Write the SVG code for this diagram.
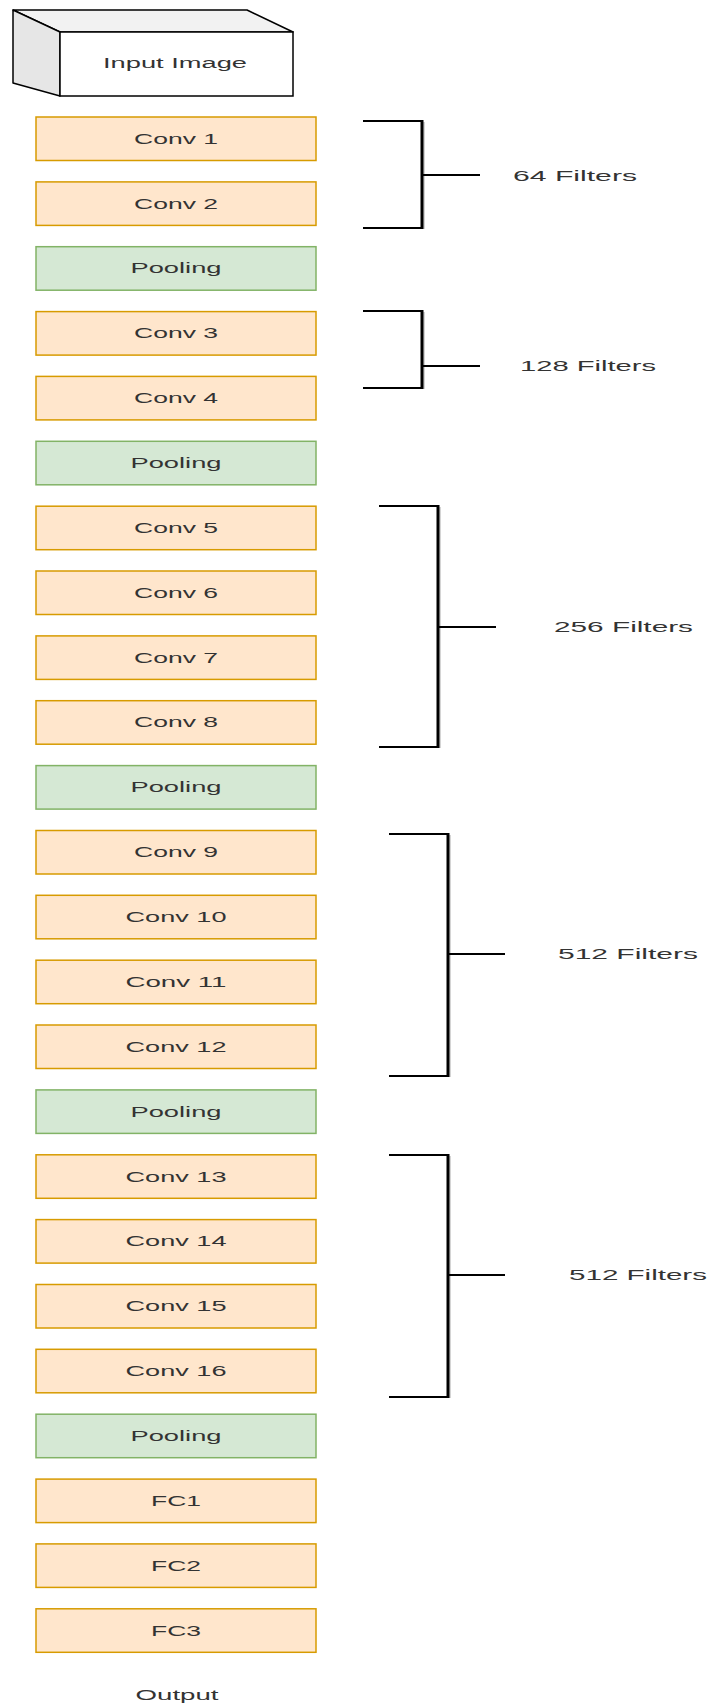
<svg xmlns="http://www.w3.org/2000/svg" width="710" height="1703" viewBox="0 0 710 1703">
<style>
  .conv { fill: #ffe6cc; stroke: #d79b00; stroke-width: 1.5; }
  .pool { fill: #d5e8d4; stroke: #82b366; stroke-width: 1.5; }
  .lbl { font-family: "Liberation Sans", Arial, sans-serif; font-size: 14px; fill: #333333; text-anchor: middle; }
  .flt { font-family: "Liberation Sans", Arial, sans-serif; font-size: 15px; fill: #333333; }
  .br { fill: none; stroke: #000000; stroke-width: 2; }
  .brv { stroke: #000000; stroke-width: 3; }
  .brs { stroke: #aaaaaa; stroke-width: 1; }
</style>
<rect x="0" y="0" width="710" height="1703" fill="#ffffff"/>

<g id="input-image">
  <polygon points="13,10 247,10 293,32 60,32" fill="#f2f2f2" stroke="#000" stroke-width="1.5" stroke-linejoin="round"/>
  <polygon points="13,10 60,32 60,96 13,83" fill="#e6e6e6" stroke="#000" stroke-width="1.5" stroke-linejoin="round"/>
  <rect x="60" y="32" width="233" height="64" fill="#ffffff" stroke="#000" stroke-width="1.5"/>
  <text class="lbl" x="175" y="68" textLength="144" lengthAdjust="spacingAndGlyphs">Input Image</text>
</g>

<g id="conv1"><rect class="conv" x="36" y="117" width="280" height="43.5"/><text class="lbl" x="176" y="143.7" textLength="84" lengthAdjust="spacingAndGlyphs">Conv 1</text></g>
<g id="conv2"><rect class="conv" x="36" y="181.9" width="280" height="43.5"/><text class="lbl" x="176" y="208.6" textLength="84" lengthAdjust="spacingAndGlyphs">Conv 2</text></g>
<g id="pool1"><rect class="pool" x="36" y="246.7" width="280" height="43.5"/><text class="lbl" x="176" y="273.4" textLength="91" lengthAdjust="spacingAndGlyphs">Pooling</text></g>
<g id="conv3"><rect class="conv" x="36" y="311.6" width="280" height="43.5"/><text class="lbl" x="176" y="338.3" textLength="84" lengthAdjust="spacingAndGlyphs">Conv 3</text></g>
<g id="conv4"><rect class="conv" x="36" y="376.4" width="280" height="43.5"/><text class="lbl" x="176" y="403.1" textLength="84" lengthAdjust="spacingAndGlyphs">Conv 4</text></g>
<g id="pool2"><rect class="pool" x="36" y="441.3" width="280" height="43.5"/><text class="lbl" x="176" y="468" textLength="91" lengthAdjust="spacingAndGlyphs">Pooling</text></g>
<g id="conv5"><rect class="conv" x="36" y="506.2" width="280" height="43.5"/><text class="lbl" x="176" y="532.9" textLength="84" lengthAdjust="spacingAndGlyphs">Conv 5</text></g>
<g id="conv6"><rect class="conv" x="36" y="571" width="280" height="43.5"/><text class="lbl" x="176" y="597.7" textLength="84" lengthAdjust="spacingAndGlyphs">Conv 6</text></g>
<g id="conv7"><rect class="conv" x="36" y="635.9" width="280" height="43.5"/><text class="lbl" x="176" y="662.6" textLength="84" lengthAdjust="spacingAndGlyphs">Conv 7</text></g>
<g id="conv8"><rect class="conv" x="36" y="700.7" width="280" height="43.5"/><text class="lbl" x="176" y="727.4" textLength="84" lengthAdjust="spacingAndGlyphs">Conv 8</text></g>
<g id="pool3"><rect class="pool" x="36" y="765.6" width="280" height="43.5"/><text class="lbl" x="176" y="792.3" textLength="91" lengthAdjust="spacingAndGlyphs">Pooling</text></g>
<g id="conv9"><rect class="conv" x="36" y="830.5" width="280" height="43.5"/><text class="lbl" x="176" y="857.2" textLength="84" lengthAdjust="spacingAndGlyphs">Conv 9</text></g>
<g id="conv10"><rect class="conv" x="36" y="895.3" width="280" height="43.5"/><text class="lbl" x="176" y="922" textLength="101" lengthAdjust="spacingAndGlyphs">Conv 10</text></g>
<g id="conv11"><rect class="conv" x="36" y="960.2" width="280" height="43.5"/><text class="lbl" x="176" y="986.9" textLength="101" lengthAdjust="spacingAndGlyphs">Conv 11</text></g>
<g id="conv12"><rect class="conv" x="36" y="1025" width="280" height="43.5"/><text class="lbl" x="176" y="1051.7" textLength="101" lengthAdjust="spacingAndGlyphs">Conv 12</text></g>
<g id="pool4"><rect class="pool" x="36" y="1089.9" width="280" height="43.5"/><text class="lbl" x="176" y="1116.6" textLength="91" lengthAdjust="spacingAndGlyphs">Pooling</text></g>
<g id="conv13"><rect class="conv" x="36" y="1154.8" width="280" height="43.5"/><text class="lbl" x="176" y="1181.5" textLength="101" lengthAdjust="spacingAndGlyphs">Conv 13</text></g>
<g id="conv14"><rect class="conv" x="36" y="1219.6" width="280" height="43.5"/><text class="lbl" x="176" y="1246.3" textLength="101" lengthAdjust="spacingAndGlyphs">Conv 14</text></g>
<g id="conv15"><rect class="conv" x="36" y="1284.5" width="280" height="43.5"/><text class="lbl" x="176" y="1311.2" textLength="101" lengthAdjust="spacingAndGlyphs">Conv 15</text></g>
<g id="conv16"><rect class="conv" x="36" y="1349.3" width="280" height="43.5"/><text class="lbl" x="176" y="1376" textLength="101" lengthAdjust="spacingAndGlyphs">Conv 16</text></g>
<g id="pool5"><rect class="pool" x="36" y="1414.2" width="280" height="43.5"/><text class="lbl" x="176" y="1440.9" textLength="91" lengthAdjust="spacingAndGlyphs">Pooling</text></g>
<g id="fc1"><rect class="conv" x="36" y="1479.1" width="280" height="43.5"/><text class="lbl" x="176" y="1505.8" textLength="50" lengthAdjust="spacingAndGlyphs">FC1</text></g>
<g id="fc2"><rect class="conv" x="36" y="1543.9" width="280" height="43.5"/><text class="lbl" x="176" y="1570.6" textLength="50" lengthAdjust="spacingAndGlyphs">FC2</text></g>
<g id="fc3"><rect class="conv" x="36" y="1608.8" width="280" height="43.5"/><text class="lbl" x="176" y="1635.5" textLength="50" lengthAdjust="spacingAndGlyphs">FC3</text></g>
<g id="output"><text class="lbl" x="177" y="1700" textLength="83" lengthAdjust="spacingAndGlyphs">Output</text></g>

<g id="connectors">
  <g id="bracket1">
    <line class="brs" x1="424" y1="122" x2="424" y2="229"/>
    <path class="br" d="M363,121 H422 M363,228 H422 M422,175 H480"/>
    <line class="brv" x1="422" y1="120" x2="422" y2="229"/>
  </g>
  <g id="bracket2">
    <line class="brs" x1="424" y1="312" x2="424" y2="389"/>
    <path class="br" d="M363,311 H422 M363,388 H422 M422,366 H480"/>
    <line class="brv" x1="422" y1="310" x2="422" y2="389"/>
  </g>
  <g id="bracket3">
    <line class="brs" x1="440" y1="507" x2="440" y2="748"/>
    <path class="br" d="M379,506 H438 M379,747 H438 M438,627 H496"/>
    <line class="brv" x1="438" y1="505" x2="438" y2="748"/>
  </g>
  <g id="bracket4">
    <line class="brs" x1="450" y1="835" x2="450" y2="1077"/>
    <path class="br" d="M389,834 H448 M389,1076 H448 M448,954 H505"/>
    <line class="brv" x1="448" y1="833" x2="448" y2="1077"/>
  </g>
  <g id="bracket5">
    <line class="brs" x1="450" y1="1156" x2="450" y2="1398"/>
    <path class="br" d="M389,1155 H448 M389,1397 H448 M448,1275 H505"/>
    <line class="brv" x1="448" y1="1154" x2="448" y2="1398"/>
  </g>
</g>

<g id="labels">
  <text class="flt" x="513" y="181" textLength="124" lengthAdjust="spacingAndGlyphs">64 Filters</text>
  <text class="flt" x="520" y="371" textLength="136" lengthAdjust="spacingAndGlyphs">128 Filters</text>
  <text class="flt" x="554" y="632" textLength="139" lengthAdjust="spacingAndGlyphs">256 Filters</text>
  <text class="flt" x="558" y="959" textLength="140" lengthAdjust="spacingAndGlyphs">512 Filters</text>
  <text class="flt" x="569" y="1280" textLength="138" lengthAdjust="spacingAndGlyphs">512 Filters</text>
</g>
</svg>
